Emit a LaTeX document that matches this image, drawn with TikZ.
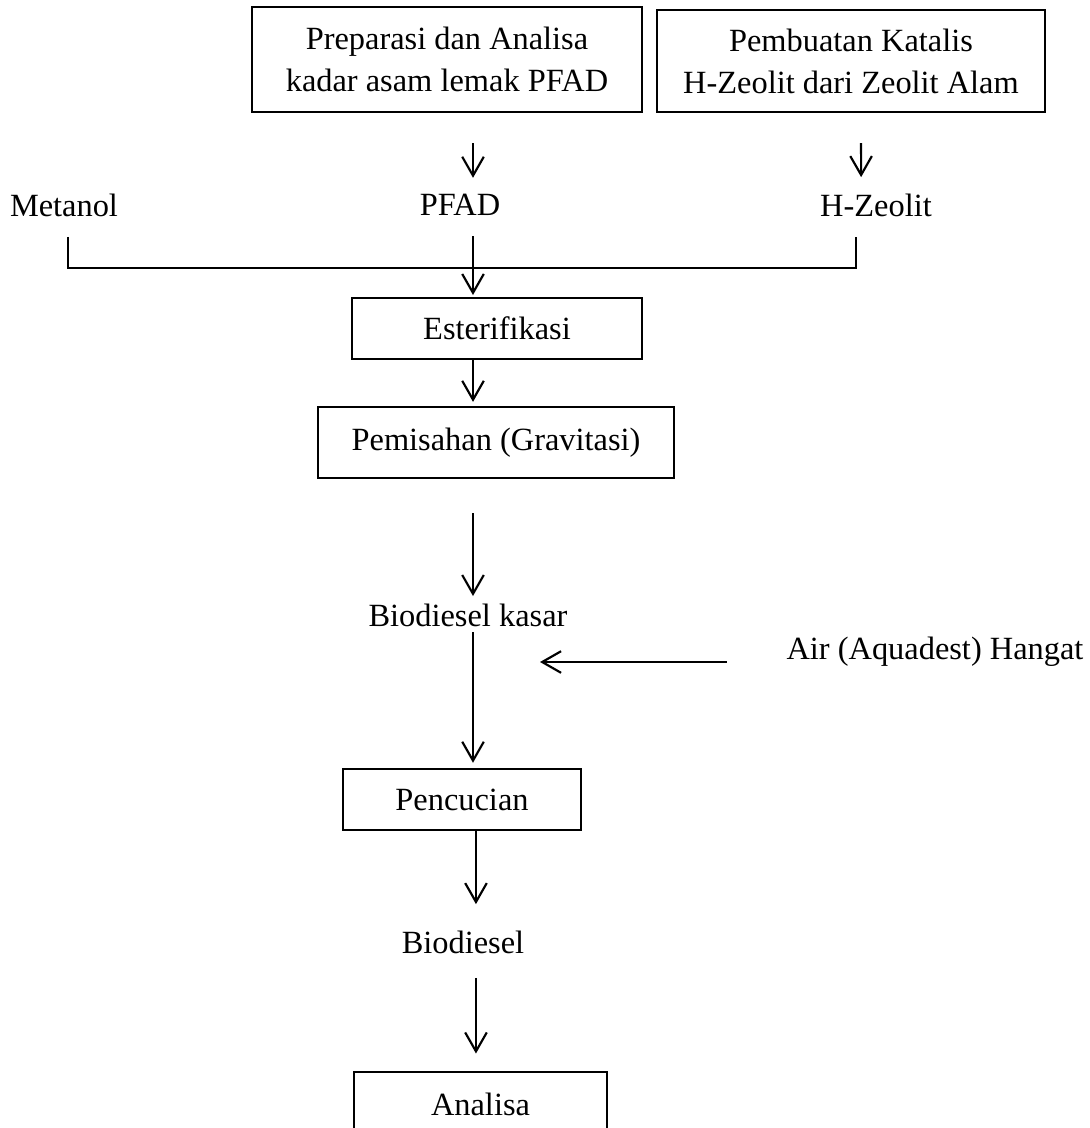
\documentclass[tikz,border=0pt]{standalone}
\usepackage{fontspec}
\setmainfont{Liberation Serif}
\usetikzlibrary{positioning, arrows.meta}

\tikzset{
  box/.style={draw, line width=0.8pt, inner sep=0pt, align=center},
  lbl/.style={inner sep=0pt},
  line/.style={line width=0.8pt},
  flow/.style={line, -{Straight Barb[length=7pt,width=8pt,line width=0.8pt]}}
}

\begin{document}
\begin{tikzpicture}[x=0.3704pt, y=-0.3704pt,
    font=\fontsize{12}{15.5}\selectfont]
        \useasboundingbox (0,0) rectangle (1089,1128);
        % blocks
        \node[box, minimum width=144.4pt, minimum height=38.9pt] (prep) at (447,59.5)
              {Preparasi dan Analisa\\kadar asam lemak PFAD};
        \node[box, minimum width=143.7pt, minimum height=37.8pt] (katalis) at (851,61)
              {Pembuatan Katalis\\H-Zeolit dari Zeolit Alam};
        \node[box, minimum width=107.4pt, minimum height=22.6pt] (ester) at (497,328.5) {Esterifikasi};
        \node[box, minimum width=131.9pt, minimum height=26.3pt] (pisah) at (496,442.5) {Pemisahan (Gravitasi)};
        \node[box, minimum width=88.2pt, minimum height=22.6pt] (cuci) at (462,799.5) {Pencucian};
        \node[box, minimum width=93.7pt, minimum height=24pt] (analisa) at (480.5,1104) {Analisa};
        % streams
        \node[lbl] (metanol) at (64,205) {Metanol};
        \node[lbl] (pfad) at (460,205) {PFAD};
        \node[lbl] (hzeo) at (876,205) {H-Zeolit};
        \node[lbl] (kasar) at (468,615) {Biodiesel kasar};
        \node[lbl] (biodsl) at (463,942) {Biodiesel};
        \node[lbl] (air) at (935,652) {Air (Aquadest) Hangat};
        \coordinate (spine) at (473,0);
        \coordinate (bus) at (473,268);
        \coordinate (inlet) at (540,662);
        % connectors
        \draw[flow, shorten <=11.1pt, shorten >=5.9pt] (prep.south -| spine) -- (pfad.north -| spine);
        \draw[flow, shorten <=11.1pt, shorten >=5.9pt] ([xshift=3.7pt]katalis.south) -- ([xshift=-5.5pt]hzeo.north);
        \draw[line, shorten <=7.4pt, shorten >=7.4pt]
              ([xshift=1.5pt]metanol.south) |- (bus) -| ([xshift=-7.4pt]hzeo.south);
        \draw[flow, shorten <=7.4pt, shorten >=0.7pt] (pfad.south -| spine) -- (ester.north -| spine);
        \draw[flow, shorten >=1.5pt] (ester.south -| spine) -- (pisah.north -| spine);
        \draw[flow, shorten <=12.6pt, shorten >=2.6pt] (pisah.south -| spine) -- (kasar.north -| spine);
        \draw[flow, shorten <=1.9pt, shorten >=1.9pt] (kasar.south -| spine) -- (cuci.north -| spine);
        \draw[flow, shorten >=9.6pt] ([xshift=1.1pt]cuci.south -| spine) -- ([xshift=1.1pt]biodsl.north -| spine);
        \draw[flow, shorten <=8.9pt, shorten >=6.3pt] ([xshift=1.1pt]biodsl.south -| spine) -- ([xshift=1.1pt]analisa.north -| spine);
        \draw[flow, shorten <=21.9pt] (air.west |- inlet) -- (inlet);
\end{tikzpicture}
\end{document}
